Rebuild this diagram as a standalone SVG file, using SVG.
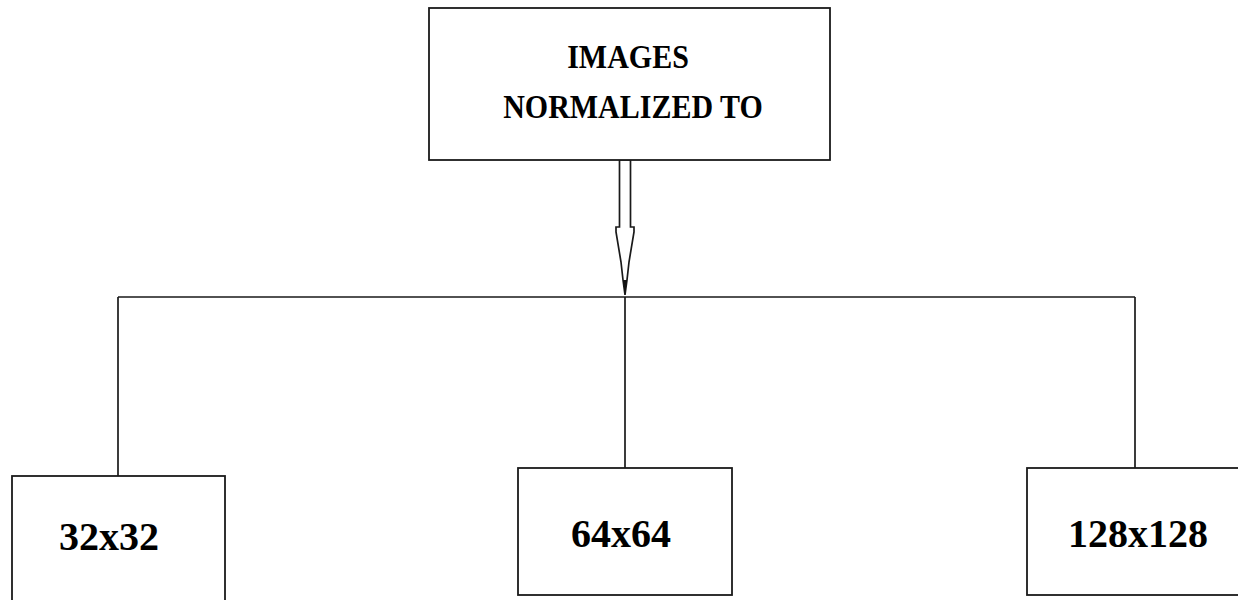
<svg xmlns="http://www.w3.org/2000/svg" width="1238" height="600" viewBox="0 0 1238 600">
<style>
.box{fill:#fff;stroke:#1a1a1a;stroke-width:1.8}
.ln{fill:none;stroke:#1a1a1a;stroke-width:1.7}
.t{font-family:"Liberation Serif","Times New Roman",serif;font-weight:bold;fill:#000;text-anchor:middle}
.top{font-size:30px}
.big{font-size:40px}
</style>
<rect width="1238" height="600" fill="#fff"/>
<g id="connectors">
<path class="ln" d="M118,297 H1135 M118,297 V476 M625,297 V468 M1135,297 V468"/>
<polygon class="ln" points="619.5,160 630.5,160 630.5,227 634,227 634,232 629,262 627,280 625,295 623,280 621,262 616,232 616,227 619.5,227"/>
<polygon points="623,280 627,280 625,295" fill="#111"/>
</g>
<g id="node-top">
<rect class="box" x="429" y="8" width="401" height="152"/>
<text class="t top" transform="translate(628,68) scale(1,1.09)">IMAGES</text>
<text class="t top" transform="translate(633,118) scale(1,1.09)">NORMALIZED TO</text>
</g>
<g id="node-32">
<rect class="box" x="12" y="476" width="213" height="140"/>
<text class="t big" x="109" y="550">32x32</text>
</g>
<g id="node-64">
<rect class="box" x="518" y="468" width="214" height="127"/>
<text class="t big" x="621" y="547">64x64</text>
</g>
<g id="node-128">
<rect class="box" x="1027" y="468" width="230" height="127"/>
<text class="t big" x="1138" y="547">128x128</text>
</g>
</svg>
